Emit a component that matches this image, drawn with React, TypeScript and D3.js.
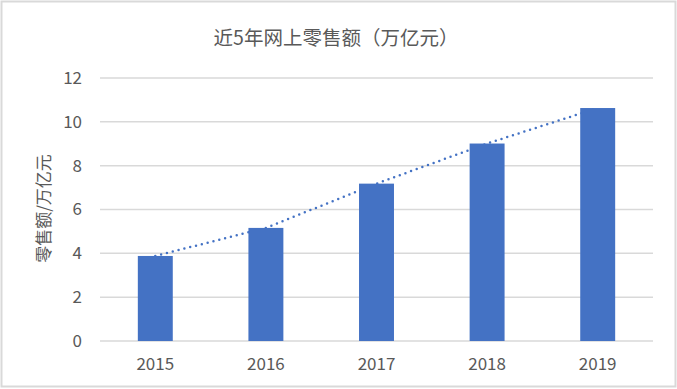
import React, { useRef, useEffect } from 'react';
import * as d3 from 'd3';

const years = ['2015', '2016', '2017', '2018', '2019'];
const sales = [3.88, 5.16, 7.18, 9.01, 10.63];
const yTicks = [0, 2, 4, 6, 8, 10, 12];
const title = '近5年网上零售额（万亿元）';
const yTitle = '零售额/万亿元';

const FONT = '"Noto Sans CJK SC", "Noto Sans", sans-serif';

const App = () => {
    const chartRef = useRef<SVGSVGElement | null>(null);

    useEffect(() => {
        d3.select(chartRef.current).selectAll('*').remove();

        const svg = d3.select(chartRef.current)
            .attr('width', 677)
            .attr('height', 389);

        const margin = { top: 78, right: 24, bottom: 48, left: 100 };
        const width = 677 - margin.left - margin.right;
        const height = 389 - margin.top - margin.bottom;

        svg.append('rect')
            .attr('x', 1.5).attr('y', 1.5)
            .attr('width', 674).attr('height', 385)
            .attr('fill', '#fff')
            .attr('stroke', '#d9d9d9')
            .attr('stroke-width', 2);

        svg.append('text')
            .attr('x', 336).attr('y', 45)
            .attr('text-anchor', 'middle')
            .attr('font-family', FONT)
            .attr('font-size', 19.5)
            .attr('fill', '#595959')
            .text(title);

        const x = d3.scaleBand()
            .domain(years)
            .range([0, width])
            .paddingInner(0.684)
            .paddingOuter(0.342);

        const y = d3.scaleLinear()
            .domain([0, 12])
            .range([height, 0]);

        const g = svg.append('g')
            .attr('transform', `translate(${margin.left},${margin.top})`);

        // gridlines
        g.append('g')
            .selectAll('line')
            .data(yTicks)
            .join('line')
            .attr('x1', 0).attr('x2', width)
            .attr('y1', d => y(d)).attr('y2', d => y(d))
            .attr('stroke', '#d9d9d9')
            .attr('stroke-width', 1.5);

        g.append('g')
            .selectAll('text')
            .data(yTicks)
            .join('text')
            .attr('x', -18)
            .attr('y', d => y(d))
            .attr('dy', '0.35em')
            .attr('text-anchor', 'end')
            .attr('font-family', FONT)
            .attr('font-size', 17)
            .attr('fill', '#595959')
            .text(d => d);

        g.append('g')
            .selectAll('text')
            .data(years)
            .join('text')
            .attr('x', d => x(d)! + x.bandwidth() / 2)
            .attr('y', height + 29)
            .attr('text-anchor', 'middle')
            .attr('font-family', FONT)
            .attr('font-size', 17)
            .attr('fill', '#595959')
            .text(d => d);

        svg.append('text')
            .attr('transform', `translate(50,${margin.top + height / 2 - 1}) rotate(-90)`)
            .attr('text-anchor', 'middle')
            .attr('font-family', FONT)
            .attr('font-size', 17)
            .attr('fill', '#595959')
            .text(yTitle);

        // dotted line behind the bars
        const line = d3.line<number>()
            .x((d, i) => x(years[i])! + x.bandwidth() / 2)
            .y(d => y(d));

        g.append('path')
            .datum(sales)
            .attr('fill', 'none')
            .attr('stroke', '#4472c4')
            .attr('stroke-width', 2.5)
            .attr('stroke-linecap', 'round')
            .attr('stroke-dasharray', '0 6')
            .attr('d', line);

        g.append('g')
            .selectAll('rect')
            .data(sales)
            .join('rect')
            .attr('x', (d, i) => x(years[i])!)
            .attr('y', d => y(d))
            .attr('width', x.bandwidth())
            .attr('height', d => height - y(d))
            .attr('fill', '#4472c4');
    }, []);

    return (
        <div style={{ position: 'absolute', left: 0, top: 0 }}>
            <svg ref={chartRef} style={{ display: 'block' }}></svg>
        </div>
    );
};

export default App;
